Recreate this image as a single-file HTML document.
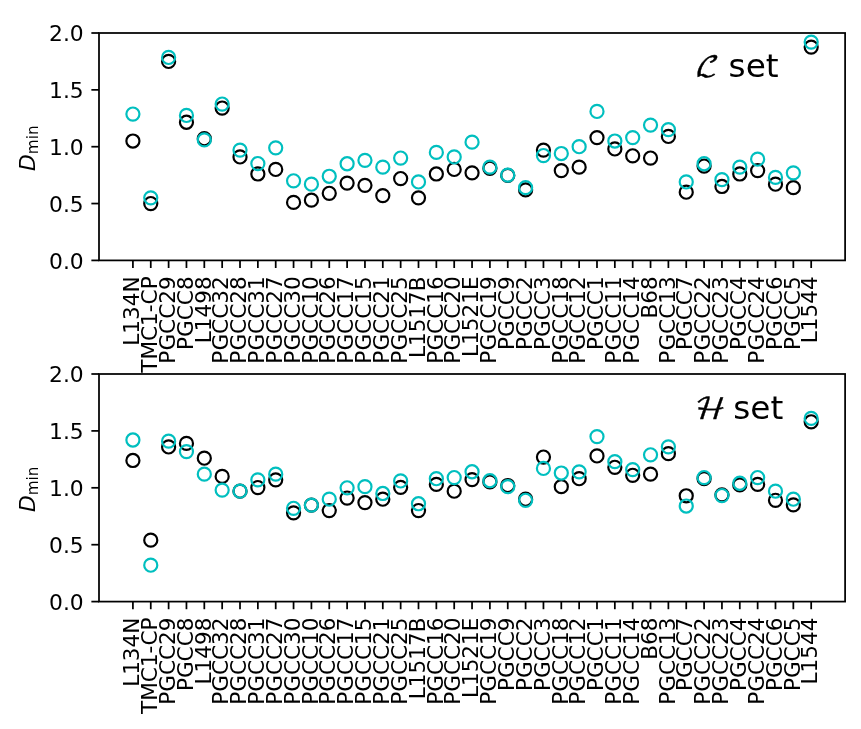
<!DOCTYPE html>
<html lang="en"><head><meta charset="utf-8"><title>D min</title><style>html,body{margin:0;padding:0;background:#fff}</style></head><body>
<svg width="861" height="729" viewBox="0 0 861 729" style="display:block;font-family:'DejaVu Sans','Liberation Sans',sans-serif">
<rect width="861" height="729" fill="#fff"/>
<g fill="none" stroke-width="2.181">
<circle cx="132.91" cy="141.01" r="6.54" stroke="#000"/>
<circle cx="150.76" cy="203.55" r="6.54" stroke="#000"/>
<circle cx="168.61" cy="61.43" r="6.54" stroke="#000"/>
<circle cx="186.46" cy="122.25" r="6.54" stroke="#000"/>
<circle cx="204.31" cy="138.74" r="6.54" stroke="#000"/>
<circle cx="222.16" cy="108.04" r="6.54" stroke="#000"/>
<circle cx="240.01" cy="156.93" r="6.54" stroke="#000"/>
<circle cx="257.86" cy="173.99" r="6.54" stroke="#000"/>
<circle cx="275.71" cy="169.44" r="6.54" stroke="#000"/>
<circle cx="293.56" cy="202.41" r="6.54" stroke="#000"/>
<circle cx="311.41" cy="200.14" r="6.54" stroke="#000"/>
<circle cx="329.26" cy="193.32" r="6.54" stroke="#000"/>
<circle cx="347.11" cy="183.08" r="6.54" stroke="#000"/>
<circle cx="364.95" cy="185.36" r="6.54" stroke="#000"/>
<circle cx="382.80" cy="195.59" r="6.54" stroke="#000"/>
<circle cx="400.65" cy="178.54" r="6.54" stroke="#000"/>
<circle cx="418.50" cy="197.86" r="6.54" stroke="#000"/>
<circle cx="436.35" cy="173.99" r="6.54" stroke="#000"/>
<circle cx="454.20" cy="169.44" r="6.54" stroke="#000"/>
<circle cx="472.05" cy="172.85" r="6.54" stroke="#000"/>
<circle cx="489.90" cy="168.30" r="6.54" stroke="#000"/>
<circle cx="507.75" cy="175.47" r="6.54" stroke="#000"/>
<circle cx="525.60" cy="189.91" r="6.54" stroke="#000"/>
<circle cx="543.45" cy="150.11" r="6.54" stroke="#000"/>
<circle cx="561.30" cy="170.58" r="6.54" stroke="#000"/>
<circle cx="579.15" cy="167.17" r="6.54" stroke="#000"/>
<circle cx="596.99" cy="137.60" r="6.54" stroke="#000"/>
<circle cx="614.84" cy="148.97" r="6.54" stroke="#000"/>
<circle cx="632.69" cy="155.80" r="6.54" stroke="#000"/>
<circle cx="650.54" cy="158.07" r="6.54" stroke="#000"/>
<circle cx="668.39" cy="136.47" r="6.54" stroke="#000"/>
<circle cx="686.24" cy="192.18" r="6.54" stroke="#000"/>
<circle cx="704.09" cy="166.03" r="6.54" stroke="#000"/>
<circle cx="721.94" cy="186.49" r="6.54" stroke="#000"/>
<circle cx="739.79" cy="173.99" r="6.54" stroke="#000"/>
<circle cx="757.64" cy="170.58" r="6.54" stroke="#000"/>
<circle cx="775.49" cy="184.22" r="6.54" stroke="#000"/>
<circle cx="793.34" cy="187.63" r="6.54" stroke="#000"/>
<circle cx="811.19" cy="47.10" r="6.54" stroke="#000"/>
<circle cx="132.91" cy="114.07" r="6.54" stroke="#00bfbf"/>
<circle cx="150.76" cy="197.86" r="6.54" stroke="#00bfbf"/>
<circle cx="168.61" cy="57.45" r="6.54" stroke="#00bfbf"/>
<circle cx="186.46" cy="115.43" r="6.54" stroke="#00bfbf"/>
<circle cx="204.31" cy="139.88" r="6.54" stroke="#00bfbf"/>
<circle cx="222.16" cy="104.06" r="6.54" stroke="#00bfbf"/>
<circle cx="240.01" cy="150.11" r="6.54" stroke="#00bfbf"/>
<circle cx="257.86" cy="163.53" r="6.54" stroke="#00bfbf"/>
<circle cx="275.71" cy="147.84" r="6.54" stroke="#00bfbf"/>
<circle cx="293.56" cy="180.81" r="6.54" stroke="#00bfbf"/>
<circle cx="311.41" cy="184.22" r="6.54" stroke="#00bfbf"/>
<circle cx="329.26" cy="176.26" r="6.54" stroke="#00bfbf"/>
<circle cx="347.11" cy="163.75" r="6.54" stroke="#00bfbf"/>
<circle cx="364.95" cy="160.34" r="6.54" stroke="#00bfbf"/>
<circle cx="382.80" cy="167.17" r="6.54" stroke="#00bfbf"/>
<circle cx="400.65" cy="158.07" r="6.54" stroke="#00bfbf"/>
<circle cx="418.50" cy="181.95" r="6.54" stroke="#00bfbf"/>
<circle cx="436.35" cy="152.38" r="6.54" stroke="#00bfbf"/>
<circle cx="454.20" cy="156.93" r="6.54" stroke="#00bfbf"/>
<circle cx="472.05" cy="142.15" r="6.54" stroke="#00bfbf"/>
<circle cx="489.90" cy="167.17" r="6.54" stroke="#00bfbf"/>
<circle cx="507.75" cy="175.12" r="6.54" stroke="#00bfbf"/>
<circle cx="525.60" cy="187.63" r="6.54" stroke="#00bfbf"/>
<circle cx="543.45" cy="155.57" r="6.54" stroke="#00bfbf"/>
<circle cx="561.30" cy="153.52" r="6.54" stroke="#00bfbf"/>
<circle cx="579.15" cy="146.70" r="6.54" stroke="#00bfbf"/>
<circle cx="596.99" cy="111.45" r="6.54" stroke="#00bfbf"/>
<circle cx="614.84" cy="141.01" r="6.54" stroke="#00bfbf"/>
<circle cx="632.69" cy="137.60" r="6.54" stroke="#00bfbf"/>
<circle cx="650.54" cy="125.10" r="6.54" stroke="#00bfbf"/>
<circle cx="668.39" cy="129.65" r="6.54" stroke="#00bfbf"/>
<circle cx="686.24" cy="181.95" r="6.54" stroke="#00bfbf"/>
<circle cx="704.09" cy="163.75" r="6.54" stroke="#00bfbf"/>
<circle cx="721.94" cy="179.67" r="6.54" stroke="#00bfbf"/>
<circle cx="739.79" cy="167.17" r="6.54" stroke="#00bfbf"/>
<circle cx="757.64" cy="159.21" r="6.54" stroke="#00bfbf"/>
<circle cx="775.49" cy="177.40" r="6.54" stroke="#00bfbf"/>
<circle cx="793.34" cy="172.85" r="6.54" stroke="#00bfbf"/>
<circle cx="811.19" cy="42.10" r="6.54" stroke="#00bfbf"/>
</g>
<g stroke="#000" stroke-width="1.744">
<line x1="132.91" y1="260.4" x2="132.91" y2="268.03"/>
<line x1="150.76" y1="260.4" x2="150.76" y2="268.03"/>
<line x1="168.61" y1="260.4" x2="168.61" y2="268.03"/>
<line x1="186.46" y1="260.4" x2="186.46" y2="268.03"/>
<line x1="204.31" y1="260.4" x2="204.31" y2="268.03"/>
<line x1="222.16" y1="260.4" x2="222.16" y2="268.03"/>
<line x1="240.01" y1="260.4" x2="240.01" y2="268.03"/>
<line x1="257.86" y1="260.4" x2="257.86" y2="268.03"/>
<line x1="275.71" y1="260.4" x2="275.71" y2="268.03"/>
<line x1="293.56" y1="260.4" x2="293.56" y2="268.03"/>
<line x1="311.41" y1="260.4" x2="311.41" y2="268.03"/>
<line x1="329.26" y1="260.4" x2="329.26" y2="268.03"/>
<line x1="347.11" y1="260.4" x2="347.11" y2="268.03"/>
<line x1="364.95" y1="260.4" x2="364.95" y2="268.03"/>
<line x1="382.80" y1="260.4" x2="382.80" y2="268.03"/>
<line x1="400.65" y1="260.4" x2="400.65" y2="268.03"/>
<line x1="418.50" y1="260.4" x2="418.50" y2="268.03"/>
<line x1="436.35" y1="260.4" x2="436.35" y2="268.03"/>
<line x1="454.20" y1="260.4" x2="454.20" y2="268.03"/>
<line x1="472.05" y1="260.4" x2="472.05" y2="268.03"/>
<line x1="489.90" y1="260.4" x2="489.90" y2="268.03"/>
<line x1="507.75" y1="260.4" x2="507.75" y2="268.03"/>
<line x1="525.60" y1="260.4" x2="525.60" y2="268.03"/>
<line x1="543.45" y1="260.4" x2="543.45" y2="268.03"/>
<line x1="561.30" y1="260.4" x2="561.30" y2="268.03"/>
<line x1="579.15" y1="260.4" x2="579.15" y2="268.03"/>
<line x1="596.99" y1="260.4" x2="596.99" y2="268.03"/>
<line x1="614.84" y1="260.4" x2="614.84" y2="268.03"/>
<line x1="632.69" y1="260.4" x2="632.69" y2="268.03"/>
<line x1="650.54" y1="260.4" x2="650.54" y2="268.03"/>
<line x1="668.39" y1="260.4" x2="668.39" y2="268.03"/>
<line x1="686.24" y1="260.4" x2="686.24" y2="268.03"/>
<line x1="704.09" y1="260.4" x2="704.09" y2="268.03"/>
<line x1="721.94" y1="260.4" x2="721.94" y2="268.03"/>
<line x1="739.79" y1="260.4" x2="739.79" y2="268.03"/>
<line x1="757.64" y1="260.4" x2="757.64" y2="268.03"/>
<line x1="775.49" y1="260.4" x2="775.49" y2="268.03"/>
<line x1="793.34" y1="260.4" x2="793.34" y2="268.03"/>
<line x1="811.19" y1="260.4" x2="811.19" y2="268.03"/>
<line x1="91.37" y1="260.40" x2="99.0" y2="260.40"/>
<line x1="91.37" y1="203.55" x2="99.0" y2="203.55"/>
<line x1="91.37" y1="146.70" x2="99.0" y2="146.70"/>
<line x1="91.37" y1="89.85" x2="99.0" y2="89.85"/>
<line x1="91.37" y1="33.00" x2="99.0" y2="33.00"/>
</g>
<rect x="99.0" y="33.0" width="746.1" height="227.39999999999998" fill="none" stroke="#000" stroke-width="1.744" stroke-linejoin="miter"/>
<g font-size="21.81px" text-anchor="end">
<text x="83.74" y="268.56">0.0</text>
<text x="83.74" y="211.71">0.5</text>
<text x="83.74" y="154.86">1.0</text>
<text x="83.74" y="98.01">1.5</text>
<text x="83.74" y="41.16">2.0</text>
</g>
<g font-size="21.57px" text-anchor="end">
<text transform="translate(139.13,276.36) rotate(-90)">L134N</text>
<text transform="translate(156.98,276.36) rotate(-90)">TMC1-CP</text>
<text transform="translate(174.83,276.36) rotate(-90)">PGCC29</text>
<text transform="translate(192.68,276.36) rotate(-90)">PGCC8</text>
<text transform="translate(210.53,276.36) rotate(-90)">L1498</text>
<text transform="translate(228.37,276.36) rotate(-90)">PGCC32</text>
<text transform="translate(246.22,276.36) rotate(-90)">PGCC28</text>
<text transform="translate(264.07,276.36) rotate(-90)">PGCC31</text>
<text transform="translate(281.92,276.36) rotate(-90)">PGCC27</text>
<text transform="translate(299.77,276.36) rotate(-90)">PGCC30</text>
<text transform="translate(317.62,276.36) rotate(-90)">PGCC10</text>
<text transform="translate(335.47,276.36) rotate(-90)">PGCC26</text>
<text transform="translate(353.32,276.36) rotate(-90)">PGCC17</text>
<text transform="translate(371.17,276.36) rotate(-90)">PGCC15</text>
<text transform="translate(389.02,276.36) rotate(-90)">PGCC21</text>
<text transform="translate(406.87,276.36) rotate(-90)">PGCC25</text>
<text transform="translate(424.72,276.36) rotate(-90)">L1517B</text>
<text transform="translate(442.57,276.36) rotate(-90)">PGCC16</text>
<text transform="translate(460.42,276.36) rotate(-90)">PGCC20</text>
<text transform="translate(478.26,276.36) rotate(-90)">L1521E</text>
<text transform="translate(496.11,276.36) rotate(-90)">PGCC19</text>
<text transform="translate(513.96,276.36) rotate(-90)">PGCC9</text>
<text transform="translate(531.81,276.36) rotate(-90)">PGCC2</text>
<text transform="translate(549.66,276.36) rotate(-90)">PGCC3</text>
<text transform="translate(567.51,276.36) rotate(-90)">PGCC18</text>
<text transform="translate(585.36,276.36) rotate(-90)">PGCC12</text>
<text transform="translate(603.21,276.36) rotate(-90)">PGCC1</text>
<text transform="translate(621.06,276.36) rotate(-90)">PGCC11</text>
<text transform="translate(638.91,276.36) rotate(-90)">PGCC14</text>
<text transform="translate(656.76,276.36) rotate(-90)">B68</text>
<text transform="translate(674.61,276.36) rotate(-90)">PGCC13</text>
<text transform="translate(692.46,276.36) rotate(-90)">PGCC7</text>
<text transform="translate(710.31,276.36) rotate(-90)">PGCC22</text>
<text transform="translate(728.15,276.36) rotate(-90)">PGCC23</text>
<text transform="translate(746.00,276.36) rotate(-90)">PGCC4</text>
<text transform="translate(763.85,276.36) rotate(-90)">PGCC24</text>
<text transform="translate(781.70,276.36) rotate(-90)">PGCC6</text>
<text transform="translate(799.55,276.36) rotate(-90)">PGCC5</text>
<text transform="translate(817.40,276.36) rotate(-90)">L1544</text>
</g>
<text transform="translate(35.00,148.15) rotate(-90)" font-size="21.81px" text-anchor="middle"><tspan font-style="italic">D</tspan><tspan font-size="15.26px" dy="2.83">min</tspan></text>
<text transform="translate(694.80,76.40) skewX(-10) scale(1.06,1)" font-size="27.50px" stroke="#000" stroke-width="0.4" style="font-family:'DejaVu Math TeX Gyre','DejaVu Sans',sans-serif">ℒ</text>
<text x="728.60" y="77.20" font-size="32.71px">set</text>
<g fill="none" stroke-width="2.181">
<circle cx="132.91" cy="460.49" r="6.54" stroke="#000"/>
<circle cx="150.76" cy="540.15" r="6.54" stroke="#000"/>
<circle cx="168.61" cy="446.95" r="6.54" stroke="#000"/>
<circle cx="186.46" cy="443.42" r="6.54" stroke="#000"/>
<circle cx="204.31" cy="458.21" r="6.54" stroke="#000"/>
<circle cx="222.16" cy="476.42" r="6.54" stroke="#000"/>
<circle cx="240.01" cy="491.21" r="6.54" stroke="#000"/>
<circle cx="257.86" cy="487.57" r="6.54" stroke="#000"/>
<circle cx="275.71" cy="479.83" r="6.54" stroke="#000"/>
<circle cx="293.56" cy="512.84" r="6.54" stroke="#000"/>
<circle cx="311.41" cy="505.10" r="6.54" stroke="#000"/>
<circle cx="329.26" cy="510.56" r="6.54" stroke="#000"/>
<circle cx="347.11" cy="498.04" r="6.54" stroke="#000"/>
<circle cx="364.95" cy="502.59" r="6.54" stroke="#000"/>
<circle cx="382.80" cy="499.18" r="6.54" stroke="#000"/>
<circle cx="400.65" cy="487.34" r="6.54" stroke="#000"/>
<circle cx="418.50" cy="510.56" r="6.54" stroke="#000"/>
<circle cx="436.35" cy="484.39" r="6.54" stroke="#000"/>
<circle cx="454.20" cy="491.21" r="6.54" stroke="#000"/>
<circle cx="472.05" cy="479.61" r="6.54" stroke="#000"/>
<circle cx="489.90" cy="481.88" r="6.54" stroke="#000"/>
<circle cx="507.75" cy="485.52" r="6.54" stroke="#000"/>
<circle cx="525.60" cy="499.18" r="6.54" stroke="#000"/>
<circle cx="543.45" cy="457.07" r="6.54" stroke="#000"/>
<circle cx="561.30" cy="486.66" r="6.54" stroke="#000"/>
<circle cx="579.15" cy="478.70" r="6.54" stroke="#000"/>
<circle cx="596.99" cy="455.94" r="6.54" stroke="#000"/>
<circle cx="614.84" cy="467.32" r="6.54" stroke="#000"/>
<circle cx="632.69" cy="475.28" r="6.54" stroke="#000"/>
<circle cx="650.54" cy="474.14" r="6.54" stroke="#000"/>
<circle cx="668.39" cy="453.66" r="6.54" stroke="#000"/>
<circle cx="686.24" cy="495.77" r="6.54" stroke="#000"/>
<circle cx="704.09" cy="478.70" r="6.54" stroke="#000"/>
<circle cx="721.94" cy="494.86" r="6.54" stroke="#000"/>
<circle cx="739.79" cy="484.96" r="6.54" stroke="#000"/>
<circle cx="757.64" cy="484.39" r="6.54" stroke="#000"/>
<circle cx="775.49" cy="500.32" r="6.54" stroke="#000"/>
<circle cx="793.34" cy="504.87" r="6.54" stroke="#000"/>
<circle cx="811.19" cy="421.80" r="6.54" stroke="#000"/>
<circle cx="132.91" cy="440.00" r="6.54" stroke="#00bfbf"/>
<circle cx="150.76" cy="565.18" r="6.54" stroke="#00bfbf"/>
<circle cx="168.61" cy="441.14" r="6.54" stroke="#00bfbf"/>
<circle cx="186.46" cy="451.61" r="6.54" stroke="#00bfbf"/>
<circle cx="204.31" cy="474.14" r="6.54" stroke="#00bfbf"/>
<circle cx="222.16" cy="490.08" r="6.54" stroke="#00bfbf"/>
<circle cx="240.01" cy="491.21" r="6.54" stroke="#00bfbf"/>
<circle cx="257.86" cy="479.83" r="6.54" stroke="#00bfbf"/>
<circle cx="275.71" cy="474.14" r="6.54" stroke="#00bfbf"/>
<circle cx="293.56" cy="508.28" r="6.54" stroke="#00bfbf"/>
<circle cx="311.41" cy="505.10" r="6.54" stroke="#00bfbf"/>
<circle cx="329.26" cy="499.18" r="6.54" stroke="#00bfbf"/>
<circle cx="347.11" cy="487.80" r="6.54" stroke="#00bfbf"/>
<circle cx="364.95" cy="486.66" r="6.54" stroke="#00bfbf"/>
<circle cx="382.80" cy="493.49" r="6.54" stroke="#00bfbf"/>
<circle cx="400.65" cy="480.97" r="6.54" stroke="#00bfbf"/>
<circle cx="418.50" cy="503.73" r="6.54" stroke="#00bfbf"/>
<circle cx="436.35" cy="478.70" r="6.54" stroke="#00bfbf"/>
<circle cx="454.20" cy="477.56" r="6.54" stroke="#00bfbf"/>
<circle cx="472.05" cy="471.75" r="6.54" stroke="#00bfbf"/>
<circle cx="489.90" cy="480.74" r="6.54" stroke="#00bfbf"/>
<circle cx="507.75" cy="486.66" r="6.54" stroke="#00bfbf"/>
<circle cx="525.60" cy="500.32" r="6.54" stroke="#00bfbf"/>
<circle cx="543.45" cy="468.45" r="6.54" stroke="#00bfbf"/>
<circle cx="561.30" cy="473.01" r="6.54" stroke="#00bfbf"/>
<circle cx="579.15" cy="471.87" r="6.54" stroke="#00bfbf"/>
<circle cx="596.99" cy="436.59" r="6.54" stroke="#00bfbf"/>
<circle cx="614.84" cy="461.63" r="6.54" stroke="#00bfbf"/>
<circle cx="632.69" cy="469.59" r="6.54" stroke="#00bfbf"/>
<circle cx="650.54" cy="454.80" r="6.54" stroke="#00bfbf"/>
<circle cx="668.39" cy="446.83" r="6.54" stroke="#00bfbf"/>
<circle cx="686.24" cy="506.01" r="6.54" stroke="#00bfbf"/>
<circle cx="704.09" cy="477.56" r="6.54" stroke="#00bfbf"/>
<circle cx="721.94" cy="495.54" r="6.54" stroke="#00bfbf"/>
<circle cx="739.79" cy="483.25" r="6.54" stroke="#00bfbf"/>
<circle cx="757.64" cy="477.56" r="6.54" stroke="#00bfbf"/>
<circle cx="775.49" cy="491.21" r="6.54" stroke="#00bfbf"/>
<circle cx="793.34" cy="499.18" r="6.54" stroke="#00bfbf"/>
<circle cx="811.19" cy="418.38" r="6.54" stroke="#00bfbf"/>
</g>
<g stroke="#000" stroke-width="1.744">
<line x1="132.91" y1="601.6" x2="132.91" y2="609.23"/>
<line x1="150.76" y1="601.6" x2="150.76" y2="609.23"/>
<line x1="168.61" y1="601.6" x2="168.61" y2="609.23"/>
<line x1="186.46" y1="601.6" x2="186.46" y2="609.23"/>
<line x1="204.31" y1="601.6" x2="204.31" y2="609.23"/>
<line x1="222.16" y1="601.6" x2="222.16" y2="609.23"/>
<line x1="240.01" y1="601.6" x2="240.01" y2="609.23"/>
<line x1="257.86" y1="601.6" x2="257.86" y2="609.23"/>
<line x1="275.71" y1="601.6" x2="275.71" y2="609.23"/>
<line x1="293.56" y1="601.6" x2="293.56" y2="609.23"/>
<line x1="311.41" y1="601.6" x2="311.41" y2="609.23"/>
<line x1="329.26" y1="601.6" x2="329.26" y2="609.23"/>
<line x1="347.11" y1="601.6" x2="347.11" y2="609.23"/>
<line x1="364.95" y1="601.6" x2="364.95" y2="609.23"/>
<line x1="382.80" y1="601.6" x2="382.80" y2="609.23"/>
<line x1="400.65" y1="601.6" x2="400.65" y2="609.23"/>
<line x1="418.50" y1="601.6" x2="418.50" y2="609.23"/>
<line x1="436.35" y1="601.6" x2="436.35" y2="609.23"/>
<line x1="454.20" y1="601.6" x2="454.20" y2="609.23"/>
<line x1="472.05" y1="601.6" x2="472.05" y2="609.23"/>
<line x1="489.90" y1="601.6" x2="489.90" y2="609.23"/>
<line x1="507.75" y1="601.6" x2="507.75" y2="609.23"/>
<line x1="525.60" y1="601.6" x2="525.60" y2="609.23"/>
<line x1="543.45" y1="601.6" x2="543.45" y2="609.23"/>
<line x1="561.30" y1="601.6" x2="561.30" y2="609.23"/>
<line x1="579.15" y1="601.6" x2="579.15" y2="609.23"/>
<line x1="596.99" y1="601.6" x2="596.99" y2="609.23"/>
<line x1="614.84" y1="601.6" x2="614.84" y2="609.23"/>
<line x1="632.69" y1="601.6" x2="632.69" y2="609.23"/>
<line x1="650.54" y1="601.6" x2="650.54" y2="609.23"/>
<line x1="668.39" y1="601.6" x2="668.39" y2="609.23"/>
<line x1="686.24" y1="601.6" x2="686.24" y2="609.23"/>
<line x1="704.09" y1="601.6" x2="704.09" y2="609.23"/>
<line x1="721.94" y1="601.6" x2="721.94" y2="609.23"/>
<line x1="739.79" y1="601.6" x2="739.79" y2="609.23"/>
<line x1="757.64" y1="601.6" x2="757.64" y2="609.23"/>
<line x1="775.49" y1="601.6" x2="775.49" y2="609.23"/>
<line x1="793.34" y1="601.6" x2="793.34" y2="609.23"/>
<line x1="811.19" y1="601.6" x2="811.19" y2="609.23"/>
<line x1="91.37" y1="601.60" x2="99.0" y2="601.60"/>
<line x1="91.37" y1="544.70" x2="99.0" y2="544.70"/>
<line x1="91.37" y1="487.80" x2="99.0" y2="487.80"/>
<line x1="91.37" y1="430.90" x2="99.0" y2="430.90"/>
<line x1="91.37" y1="374.00" x2="99.0" y2="374.00"/>
</g>
<rect x="99.0" y="374.0" width="746.1" height="227.60000000000002" fill="none" stroke="#000" stroke-width="1.744" stroke-linejoin="miter"/>
<g font-size="21.81px" text-anchor="end">
<text x="83.74" y="609.76">0.0</text>
<text x="83.74" y="552.86">0.5</text>
<text x="83.74" y="495.96">1.0</text>
<text x="83.74" y="439.06">1.5</text>
<text x="83.74" y="382.16">2.0</text>
</g>
<g font-size="21.57px" text-anchor="end">
<text transform="translate(139.13,617.56) rotate(-90)">L134N</text>
<text transform="translate(156.98,617.56) rotate(-90)">TMC1-CP</text>
<text transform="translate(174.83,617.56) rotate(-90)">PGCC29</text>
<text transform="translate(192.68,617.56) rotate(-90)">PGCC8</text>
<text transform="translate(210.53,617.56) rotate(-90)">L1498</text>
<text transform="translate(228.37,617.56) rotate(-90)">PGCC32</text>
<text transform="translate(246.22,617.56) rotate(-90)">PGCC28</text>
<text transform="translate(264.07,617.56) rotate(-90)">PGCC31</text>
<text transform="translate(281.92,617.56) rotate(-90)">PGCC27</text>
<text transform="translate(299.77,617.56) rotate(-90)">PGCC30</text>
<text transform="translate(317.62,617.56) rotate(-90)">PGCC10</text>
<text transform="translate(335.47,617.56) rotate(-90)">PGCC26</text>
<text transform="translate(353.32,617.56) rotate(-90)">PGCC17</text>
<text transform="translate(371.17,617.56) rotate(-90)">PGCC15</text>
<text transform="translate(389.02,617.56) rotate(-90)">PGCC21</text>
<text transform="translate(406.87,617.56) rotate(-90)">PGCC25</text>
<text transform="translate(424.72,617.56) rotate(-90)">L1517B</text>
<text transform="translate(442.57,617.56) rotate(-90)">PGCC16</text>
<text transform="translate(460.42,617.56) rotate(-90)">PGCC20</text>
<text transform="translate(478.26,617.56) rotate(-90)">L1521E</text>
<text transform="translate(496.11,617.56) rotate(-90)">PGCC19</text>
<text transform="translate(513.96,617.56) rotate(-90)">PGCC9</text>
<text transform="translate(531.81,617.56) rotate(-90)">PGCC2</text>
<text transform="translate(549.66,617.56) rotate(-90)">PGCC3</text>
<text transform="translate(567.51,617.56) rotate(-90)">PGCC18</text>
<text transform="translate(585.36,617.56) rotate(-90)">PGCC12</text>
<text transform="translate(603.21,617.56) rotate(-90)">PGCC1</text>
<text transform="translate(621.06,617.56) rotate(-90)">PGCC11</text>
<text transform="translate(638.91,617.56) rotate(-90)">PGCC14</text>
<text transform="translate(656.76,617.56) rotate(-90)">B68</text>
<text transform="translate(674.61,617.56) rotate(-90)">PGCC13</text>
<text transform="translate(692.46,617.56) rotate(-90)">PGCC7</text>
<text transform="translate(710.31,617.56) rotate(-90)">PGCC22</text>
<text transform="translate(728.15,617.56) rotate(-90)">PGCC23</text>
<text transform="translate(746.00,617.56) rotate(-90)">PGCC4</text>
<text transform="translate(763.85,617.56) rotate(-90)">PGCC24</text>
<text transform="translate(781.70,617.56) rotate(-90)">PGCC6</text>
<text transform="translate(799.55,617.56) rotate(-90)">PGCC5</text>
<text transform="translate(817.40,617.56) rotate(-90)">L1544</text>
</g>
<text transform="translate(35.00,489.25) rotate(-90)" font-size="21.81px" text-anchor="middle"><tspan font-style="italic">D</tspan><tspan font-size="15.26px" dy="2.83">min</tspan></text>
<text transform="translate(693.30,419.20) skewX(-6) scale(1.085,1)" font-size="29.40px" stroke="#000" stroke-width="0.35" style="font-family:'DejaVu Math TeX Gyre','DejaVu Sans',sans-serif">ℋ</text>
<text x="733.30" y="418.90" font-size="32.71px">set</text>
</svg>
</body></html>
